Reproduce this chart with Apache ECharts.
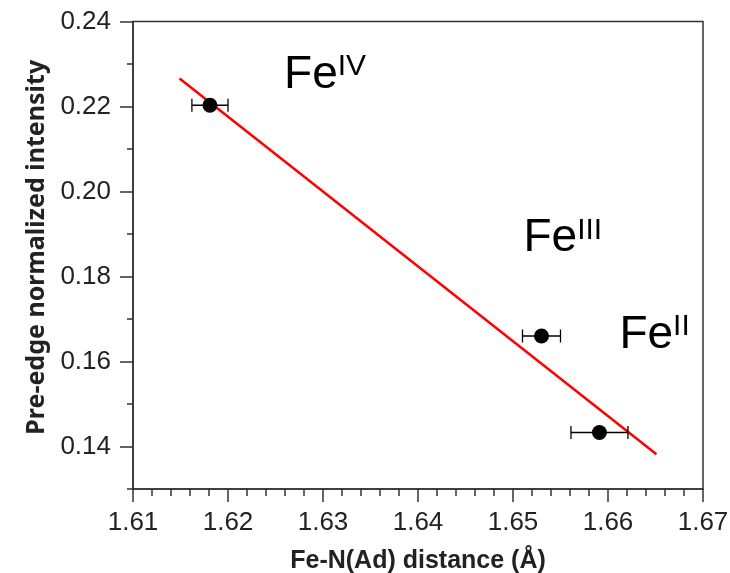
<!DOCTYPE html>
<html><head><meta charset="utf-8">
<script src="https://cdn.jsdelivr.net/npm/echarts@6/dist/echarts.min.js"></script>
<style>html,body{margin:0;padding:0;background:#fff}#c{width:730px;height:573px}</style>
</head><body><div id="c"></div>
<script>
// ---- data ----
const distances = [1.6181, 1.6530, 1.6591];
const intensities = [0.2203, 0.1660, 0.1433];
const distanceErrors = [0.0019, 0.0020, 0.0030];
const fitX = [1.6149, 1.6651];
const fitY = [0.2266, 0.1382];
const oxidationStates = ['IV', 'III', 'II'];
const stateLabelX = [1.6259, 1.6511, 1.6612];
const stateLabelY = [0.2328, 0.1944, 0.1716];
const xTitle = 'Fe-N(Ad) distance (Å)';
const yTitle = 'Pre-edge normalized intensity';

const chart = echarts.init(document.getElementById('c'), null, {renderer: 'canvas'});
const axisColor = '#333';
const tickFont = {fontFamily: 'Liberation Sans', fontSize: 26, color: '#222'};
const xTitleFont = {fontFamily: 'Liberation Sans', fontWeight: 'bold', fontSize: 25, color: '#222'};
const yTitleFont = {fontFamily: 'Noto Sans', fontWeight: 'bold', fontSize: 25, color: '#222', padding: [0, 0, 0, 16]};

const G = {left: 133, right: 27, top: 21.5};
const unitPx = 425 / 0.10;
const bottom0 = 84;

chart.setOption({
  animation: false,
  backgroundColor: '#fff',
  grid: [
    {left: G.left, right: G.right, top: G.top, bottom: bottom0, show: true, borderColor: axisColor, borderWidth: 1.5,
     containLabel: false, outerBoundsMode: 'none'},
    {left: G.left, right: G.right, top: G.top, bottom: bottom0 + 0.01 * unitPx,
     containLabel: false, outerBoundsMode: 'none'}
  ],
  xAxis: [
    {type: 'value', gridIndex: 0, min: 1.61, max: 1.67, interval: 0.01,
     axisLine: {show: true, onZero: false, lineStyle: {color: axisColor, width: 1.5}},
     axisTick: {show: true, length: 13, lineStyle: {color: axisColor, width: 1.5}},
     minorTick: {show: true, splitNumber: 5, length: 7, lineStyle: {color: axisColor, width: 1.5}},
     splitLine: {show: false},
     axisLabel: Object.assign({margin: 21, formatter: v => v.toFixed(2)}, tickFont),
     name: xTitle, nameLocation: 'middle', nameGap: 60, nameTextStyle: xTitleFont},
    {type: 'value', gridIndex: 1, min: 1.61, max: 1.67, show: false}
  ],
  yAxis: [
    {type: 'value', gridIndex: 0, min: 0.13, max: 0.24, interval: 0.01,
     axisLine: {show: true, onZero: false, lineStyle: {color: axisColor, width: 1.5}},
     axisTick: {show: true, length: 6, lineStyle: {color: axisColor, width: 1.5}},
     splitLine: {show: false},
     axisLabel: {show: false},
     name: yTitle, nameLocation: 'middle', nameGap: 84, nameTextStyle: yTitleFont},
    {type: 'value', gridIndex: 1, min: 0.14, max: 0.24, interval: 0.02,
     axisLine: {show: false},
     axisTick: {show: true, length: 13, lineStyle: {color: axisColor, width: 1.5}},
     splitLine: {show: false},
     axisLabel: Object.assign({margin: 22, formatter: v => v.toFixed(2)}, tickFont)}
  ],
  series: [
    {type: 'line', xAxisIndex: 0, yAxisIndex: 0, data: fitX.map((x, i) => [x, fitY[i]]),
     symbol: 'none', lineStyle: {color: '#ff0000', width: 2.5}, z: 3},
    {type: 'custom', xAxisIndex: 0, yAxisIndex: 0,
     data: distances.map((d, i) => [d, intensities[i], distanceErrors[i]]),
     encode: {x: 0, y: 1},
     renderItem: function (params, api) {
       const x = api.value(0), y = api.value(1), e = api.value(2);
       const p1 = api.coord([x - e, y]), p2 = api.coord([x + e, y]);
       const h = 6.5;
       const st = {stroke: '#000', lineWidth: 1.3};
       return {type: 'group', children: [
         {type: 'line', shape: {x1: p1[0], y1: p1[1], x2: p2[0], y2: p2[1]}, style: st},
         {type: 'line', shape: {x1: p1[0], y1: p1[1] - h, x2: p1[0], y2: p1[1] + h}, style: st},
         {type: 'line', shape: {x1: p2[0], y1: p2[1] - h, x2: p2[0], y2: p2[1] + h}, style: st}
       ]};
     }, z: 4},
    {type: 'scatter', xAxisIndex: 0, yAxisIndex: 0,
     data: distances.map((d, i) => [d, intensities[i]]),
     symbol: 'circle', symbolSize: 15, itemStyle: {color: '#000', opacity: 1}, z: 5}
  ]
});

const texts = oxidationStates.map((s, i) => {
  const p = chart.convertToPixel({xAxisIndex: 0, yAxisIndex: 0}, [stateLabelX[i], stateLabelY[i]]);
  return {
    type: 'text', x: p[0], y: p[1], z: 10,
    style: {
      text: '{b|Fe}{s|' + s + '}',
      align: 'left', verticalAlign: 'top',
      rich: {
        b: {fontFamily: 'Liberation Sans', fontSize: 46, fill: '#000', lineHeight: 46},
        s: {fontFamily: 'Liberation Sans', fontSize: 30, fill: '#000', verticalAlign: 'top'}
      }
    }
  };
});
chart.setOption({graphic: {elements: texts}});
</script>
</body></html>
